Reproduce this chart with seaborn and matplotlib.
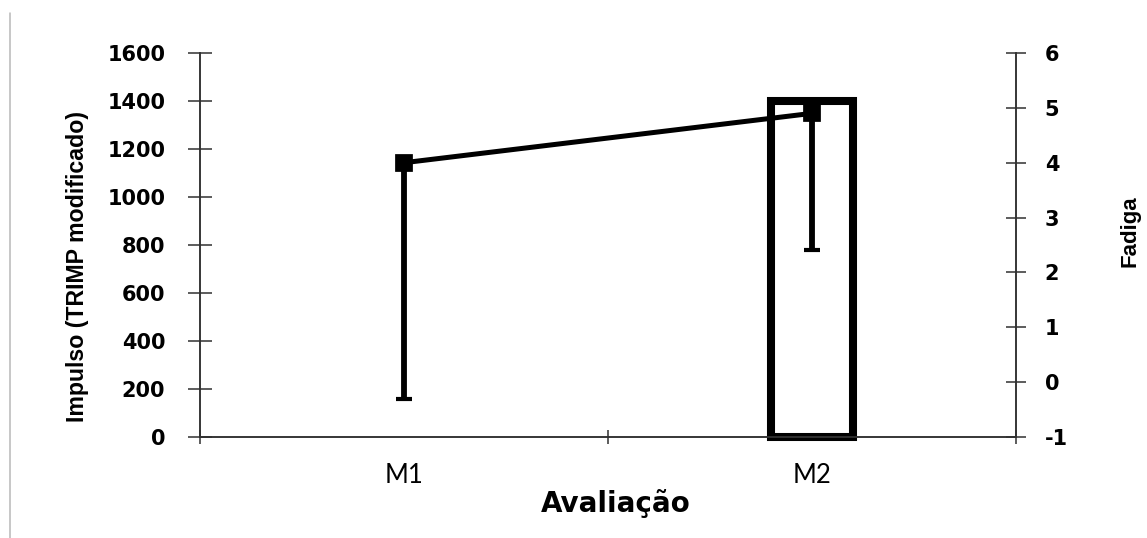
import numpy as np
import pandas as pd
import matplotlib
matplotlib.use('Agg')
import matplotlib.pyplot as plt
from matplotlib.lines import Line2D
import seaborn as sns

# ================================
# DATA
# ================================
categorias = ['M1', 'M2']
impulso = [np.nan, 1400]          # bar (left axis)
fadiga = [4.0, 4.9]               # line (right axis)
fadiga_erro = [4.3, 2.5]          # lower error only

yticks_esq = [0, 200, 400, 600, 800, 1000, 1200, 1400, 1600]
yticks_dir = [-1, 0, 1, 2, 3, 4, 5, 6]

df = pd.DataFrame({'Avaliacao': categorias, 'Impulso': impulso, 'Fadiga': fadiga})

# ================================
# STYLE
# ================================
sns.set_theme(style='white')
plt.rcParams['font.family'] = ['DejaVu Sans']
plt.rcParams['axes.unicode_minus'] = False
narrow = ['Liberation Sans', 'DejaVu Sans']

fig = plt.figure(figsize=(11.47, 5.38), dpi=100)
ax = fig.add_axes([200/1147, 1-437/538, 816/1147, 384/538])
ax2 = ax.twinx()

# ================================
# BARS + LINE
# ================================
sns.barplot(data=df, x='Avaliacao', y='Impulso', order=categorias, ax=ax,
            color='white', edgecolor='black', linewidth=5.8, width=0.2,
            errorbar=None, saturation=1)
for p in ax.patches:
    p.set_clip_on(False)

sns.pointplot(data=df, x='Avaliacao', y='Fadiga', order=categorias, ax=ax2,
              color='black', markers='s', linestyles='-', errorbar=None,
              markersize=10, linewidth=3.6)
pos = np.arange(len(categorias))
ax2.errorbar(pos, fadiga, yerr=[fadiga_erro, np.zeros(len(fadiga))], fmt='none',
             ecolor='black', elinewidth=4.2, capsize=5.5, capthick=3, zorder=1)

# ================================
# AXES
# ================================
ax.set_ylim(0, 1600)
ax2.set_ylim(-1, 6)
ax.set_xlim(-0.5, len(categorias) - 0.5)
ax.set_yticks(yticks_esq)
ax2.set_yticks(yticks_dir)
ax.set_xticks(pos)
ax.set_xticklabels(categorias)
ax.set_xticks(np.arange(len(categorias) + 1) - 0.5, minor=True)

for a in (ax, ax2):
    for s in a.spines.values():
        s.set_color('#303030')
        s.set_linewidth(1.1)
    a.spines['top'].set_visible(False)
    a.grid(False)

ax.tick_params(axis='x', which='major', length=0, pad=19, bottom=True)
ax.tick_params(axis='x', which='minor', direction='inout', length=10,
               width=1.1, color='#303030', bottom=True)
ax.tick_params(axis='y', direction='inout', length=17, width=1.1,
               color='#303030', pad=16.5, left=True)
ax2.tick_params(axis='y', direction='inout', length=14.4, width=1.1,
                color='#303030', pad=13.5, right=True)

for lbl in ax.get_yticklabels() + ax2.get_yticklabels():
    lbl.set_fontsize(15)
    lbl.set_fontweight('bold')
    lbl.set_color('black')
for lbl in ax.get_xticklabels():
    lbl.set_family(['Lato', 'DejaVu Sans'])
    lbl.set_fontsize(18.5)
    lbl.set_color('black')

ax.set_xlabel('Avaliação', fontsize=20, fontweight='bold', color='black')
ax.xaxis.set_label_coords(0.509, -0.172)
ax.xaxis.label.set_va('center')

ax.set_ylabel('Impulso (TRIMP modificado)', fontsize=16.7, fontweight='bold',
              family=narrow, color='black', va='center')
ax.yaxis.set_label_coords(-0.150, 0.445)
ax2.set_ylabel('Fadiga', fontsize=16, fontweight='bold', family=narrow,
               color='black', rotation=90, va='center')
ax2.yaxis.set_label_coords(1.140, 0.536)

fig.add_artist(Line2D([9.5/1147, 9.5/1147], [0, 1 - 13/538],
                      transform=fig.transFigure, color='#b8b8b8', lw=1.1))

plt.savefig('out.png', dpi=100, facecolor='white')
